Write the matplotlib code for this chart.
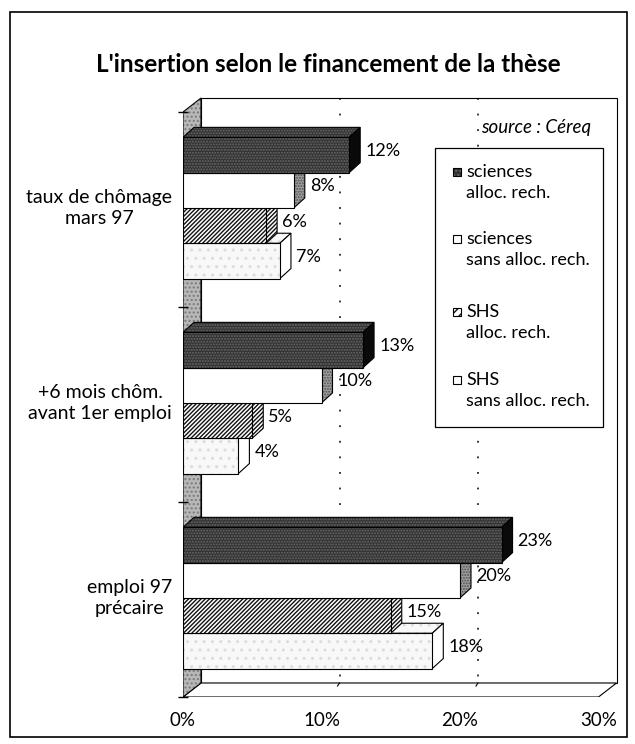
import matplotlib
matplotlib.use("Agg")
import matplotlib.pyplot as plt
from matplotlib.patches import Polygon, Rectangle

plt.rcParams['font.family'] = ['Lato', 'DejaVu Sans']
plt.rcParams['hatch.linewidth'] = 1.0

# ---------------- data ----------------
categories = ["taux de chômage\nmars 97", "+6 mois chôm.\navant 1er emploi", "emploi 97\nprécaire"]
series_names = ["sciences\nalloc. rech.", "sciences\nsans alloc. rech.",
                "SHS\nalloc. rech.", "SHS\nsans alloc. rech."]
sci_alloc = [12, 13, 23]
sci_sans = [8, 10, 20]
shs_alloc = [6, 5, 15]
shs_sans = [7, 4, 18]
xticks = [0, 10, 20, 30]
xtick_labels = ["0%", "10%", "20%", "30%"]
title = "L'insertion selon le financement de la thèse"
source = "source : Céreq"

series = [sci_alloc, sci_sans, shs_alloc, shs_sans]

# ---------------- styles ----------------
styles = [
    dict(fc='#303030', hatch='......', hc='#6a6a6a', top='#303030', thatch='......', thc='#6a6a6a',
         side='#0a0a0a', shatch=None, shc='#0a0a0a'),
    dict(fc='white', hatch=None, hc='white', top='white', thatch=None, thc='white',
         side='#a0a0a0', shatch='......', shc='#505050'),
    dict(fc='white', hatch='////////', hc='#111111', top='white', thatch='////////', thc='#111111',
         side='white', shatch='////////', shc='#111111'),
    dict(fc='#f8f8f8', hatch='..', hc='#dcdcdc', top='#f8f8f8', thatch='..', thc='#dcdcdc',
         side='white', shatch=None, shc='white'),
]

W, H = 635, 744
fig = plt.figure(figsize=(W / 100, H / 100), dpi=100)
fig.patch.set_facecolor('white')

def fx(px):
    return px / W

def fy(py):
    return 1 - py / H

# outer frame
fig.add_artist(Rectangle((fx(10), fy(737)), fx(627) - fx(10), fy(12) - fy(737),
                         transform=fig.transFigure, fill=False, ec='black', lw=1.2))

# axes geometry (pixels)
X0, XR = 183, 628
PXU_X = 13.85
YT, YF = 88, 697
PXU_Y = 195.0
ax = fig.add_axes([fx(X0), fy(YF), (XR - X0) / W, (YF - YT) / H])
ax.set_xlim(0, (XR - X0) / PXU_X)
ax.set_ylim(3, 3 - (YF - YT) / PXU_Y)
ax.patch.set_alpha(0)
for s in ax.spines.values():
    s.set_visible(False)

ux = 1 / PXU_X
uy = 1 / PXU_Y
xmax = xticks[-1]
ncat = len(categories)
wdx, wdy = 18 * ux, 14 * uy
bdx, bdy = 11 * ux, 10 * uy

def poly(pts, fc, hatch=None, hc=None, z=1, lw=0.8):
    if hatch:
        ax.add_patch(Polygon(pts, closed=True, fc=fc, ec=hc, lw=0, hatch=hatch, zorder=z))
        ax.add_patch(Polygon(pts, closed=True, fill=False, ec='black', lw=lw, zorder=z + 0.01))
    else:
        ax.add_patch(Polygon(pts, closed=True, fc=fc, ec='black', lw=lw, zorder=z))

# back wall
poly([(wdx, -wdy), (xmax + wdx, -wdy), (xmax + wdx, ncat - wdy), (wdx, ncat - wdy)], 'white', z=0.5)
for t in xticks[1:-1]:
    ax.plot([t + wdx, t + wdx], [-wdy, ncat - wdy], ls=(0, (1.2, 9)), color='black', lw=1.1, zorder=0.6)
# floor
poly([(0, ncat), (xmax, ncat), (xmax + wdx, ncat - wdy), (wdx, ncat - wdy)], 'white', z=0.7)
for t in xticks[1:-1]:
    ax.plot([t + wdx, t + wdx - 2 * ux], [ncat - wdy, ncat - wdy + 3 * uy], color='black', lw=0.8, zorder=0.75)
# left side wall
poly([(0, 0), (wdx, -wdy), (wdx, ncat - wdy), (0, ncat)], '#b8b8b8', hatch='....', hc='#7a7a7a', z=0.8)

# bars
bh = 0.181
g0 = 0.13
for i in range(ncat):
    for j in reversed(range(len(series))):
        v = series[j][i]
        st = styles[j]
        yt = i + g0 + j * bh
        yb = yt + bh
        z = 2 + i * 10 + (len(series) - j) * 2
        poly([(0, yt), (v, yt), (v + bdx, yt - bdy), (bdx, yt - bdy)], st['top'], st['thatch'], st['thc'], z)
        poly([(v, yt), (v, yb), (v + bdx, yb - bdy), (v + bdx, yt - bdy)], st['side'], st['shatch'], st['shc'], z + 0.2)
        poly([(0, yt), (v, yt), (v, yb), (0, yb)], st['fc'], st['hatch'], st['hc'], z + 0.4)
        ax.text(v + bdx + 5 * ux, (yt + yb) / 2 - 4 * uy, f"{v}%", ha='left', va='center',
                fontsize=13, zorder=50)

# axes ticks
ax.set_xticks(xticks)
ax.set_xticklabels(xtick_labels, fontsize=13.5)
ax.tick_params(axis='x', length=0, pad=11)
ax.set_yticks(range(ncat + 1))
ax.set_yticklabels([''] * (ncat + 1))
ax.tick_params(axis='y', which='major', length=7, width=1, direction='inout')
ax.set_yticks([i + g0 + 2 * bh - 0.02 for i in range(ncat)], minor=True)
ax.set_yticklabels(categories, minor=True, fontsize=14, multialignment='center', linespacing=1.3)
ax.tick_params(axis='y', which='minor', length=0, pad=8)

# title
fig.text(fx(328), fy(65), title, ha='center', va='center', fontsize=17.5, fontweight='bold')
# source
fig.text(fx(481), fy(127), source, ha='left', va='center', fontsize=13.5, style='italic')

# legend (manual)
fig.add_artist(Rectangle((fx(435), fy(427)), fx(603) - fx(435), fy(148) - fy(427),
                         transform=fig.transFigure, fc='white', ec='black', lw=0.9, zorder=60))
leg_y = [172, 239, 312, 380]
for j, name in enumerate(series_names):
    st = styles[j]
    y = leg_y[j]
    s = 8
    fig.add_artist(Rectangle((fx(453), fy(y + s / 2)), s / W, s / H, transform=fig.transFigure,
                             fc=st['fc'] if j != 3 else 'white', ec=st['hc'] if st['hatch'] else 'black',
                             lw=0, hatch=('....' if j == 0 else '////') if j in (0, 2) else None, zorder=61))
    fig.add_artist(Rectangle((fx(453), fy(y + s / 2)), s / W, s / H, transform=fig.transFigure,
                             fill=False, ec='black', lw=0.8, zorder=62))
    l1, l2 = name.split("\n")
    fig.text(fx(466), fy(y), l1, ha='left', va='center', fontsize=13, zorder=63)
    fig.text(fx(466), fy(y + 21), l2, ha='left', va='center', fontsize=13, zorder=63)

fig.savefig("out.png", dpi=100)
